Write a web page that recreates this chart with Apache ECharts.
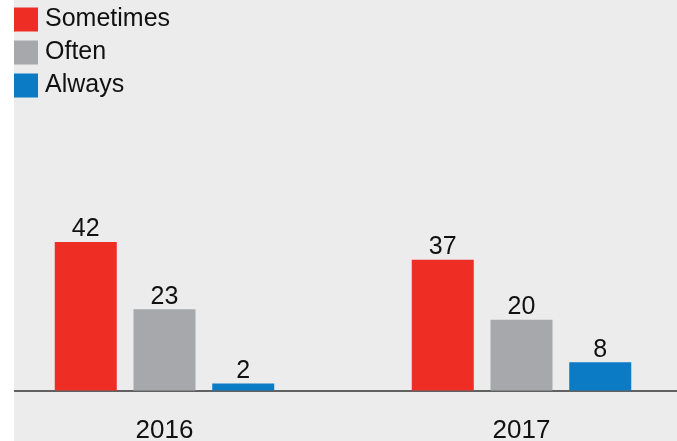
<!DOCTYPE html>
<html>
<head>
<meta charset="utf-8">
<script src="https://cdn.jsdelivr.net/npm/echarts@6/dist/echarts.min.js"></script>
<style>
  html, body { margin: 0; padding: 0; background: #ffffff; }
  #wrap { position: absolute; left: 14px; top: 0; width: 663px; height: 441px; background: #ececec; overflow: hidden; }
  #chart { position: absolute; left: -28px; top: 0; width: 714px; height: 441px; }
</style>
</head>
<body>
<div id="wrap"><div id="chart"></div></div>
<script>
// Survey answers per year
const years = ['2016', '2017'];
const sometimes = [42, 37];
const often = [23, 20];
const always = [2, 8];

const seriesNames = ['Sometimes', 'Often', 'Always'];
const colors = ['#ee2e25', '#a7a8ab', '#0a7bc4'];
const font = "'Liberation Sans', Arial, Helvetica, sans-serif";

const chart = echarts.init(document.getElementById('chart'), null, { renderer: 'canvas' });

const valueLabel = {
  show: true,
  position: 'top',
  distance: 0,
  fontSize: 25,
  fontFamily: font,
  color: '#111111'
};

function bar(name, data, color) {
  return {
    name: name,
    type: 'bar',
    data: data,
    barWidth: 62,
    barGap: '27%',
    itemStyle: { color: color },
    label: valueLabel,
    animation: false
  };
}

chart.setOption({
  animation: false,
  backgroundColor: 'transparent',
  legend: {
    orient: 'vertical',
    left: 28,
    top: 7,
    icon: 'rect',
    itemWidth: 24,
    itemHeight: 24,
    itemGap: 8,
    padding: 0,
    textStyle: { fontSize: 25, fontFamily: font, color: '#111111', lineHeight: 24, padding: [0, 0, 0, 2] },
    data: seriesNames
  },
  grid: { left: 0, right: 0, top: 178.5, bottom: 50.5, outerBoundsMode: 'none', containLabel: false },
  xAxis: {
    type: 'category',
    data: years,
    axisTick: { show: false },
    axisLine: { lineStyle: { color: '#333333', width: 1.5 } },
    axisLabel: { fontSize: 26, fontFamily: font, color: '#111111', margin: 27 }
  },
  yAxis: {
    type: 'value',
    min: 0,
    max: 60,
    show: false,
    splitLine: { show: false }
  },
  series: [
    bar(seriesNames[0], sometimes, colors[0]),
    bar(seriesNames[1], often, colors[1]),
    bar(seriesNames[2], always, colors[2])
  ]
});
</script>
</body>
</html>
